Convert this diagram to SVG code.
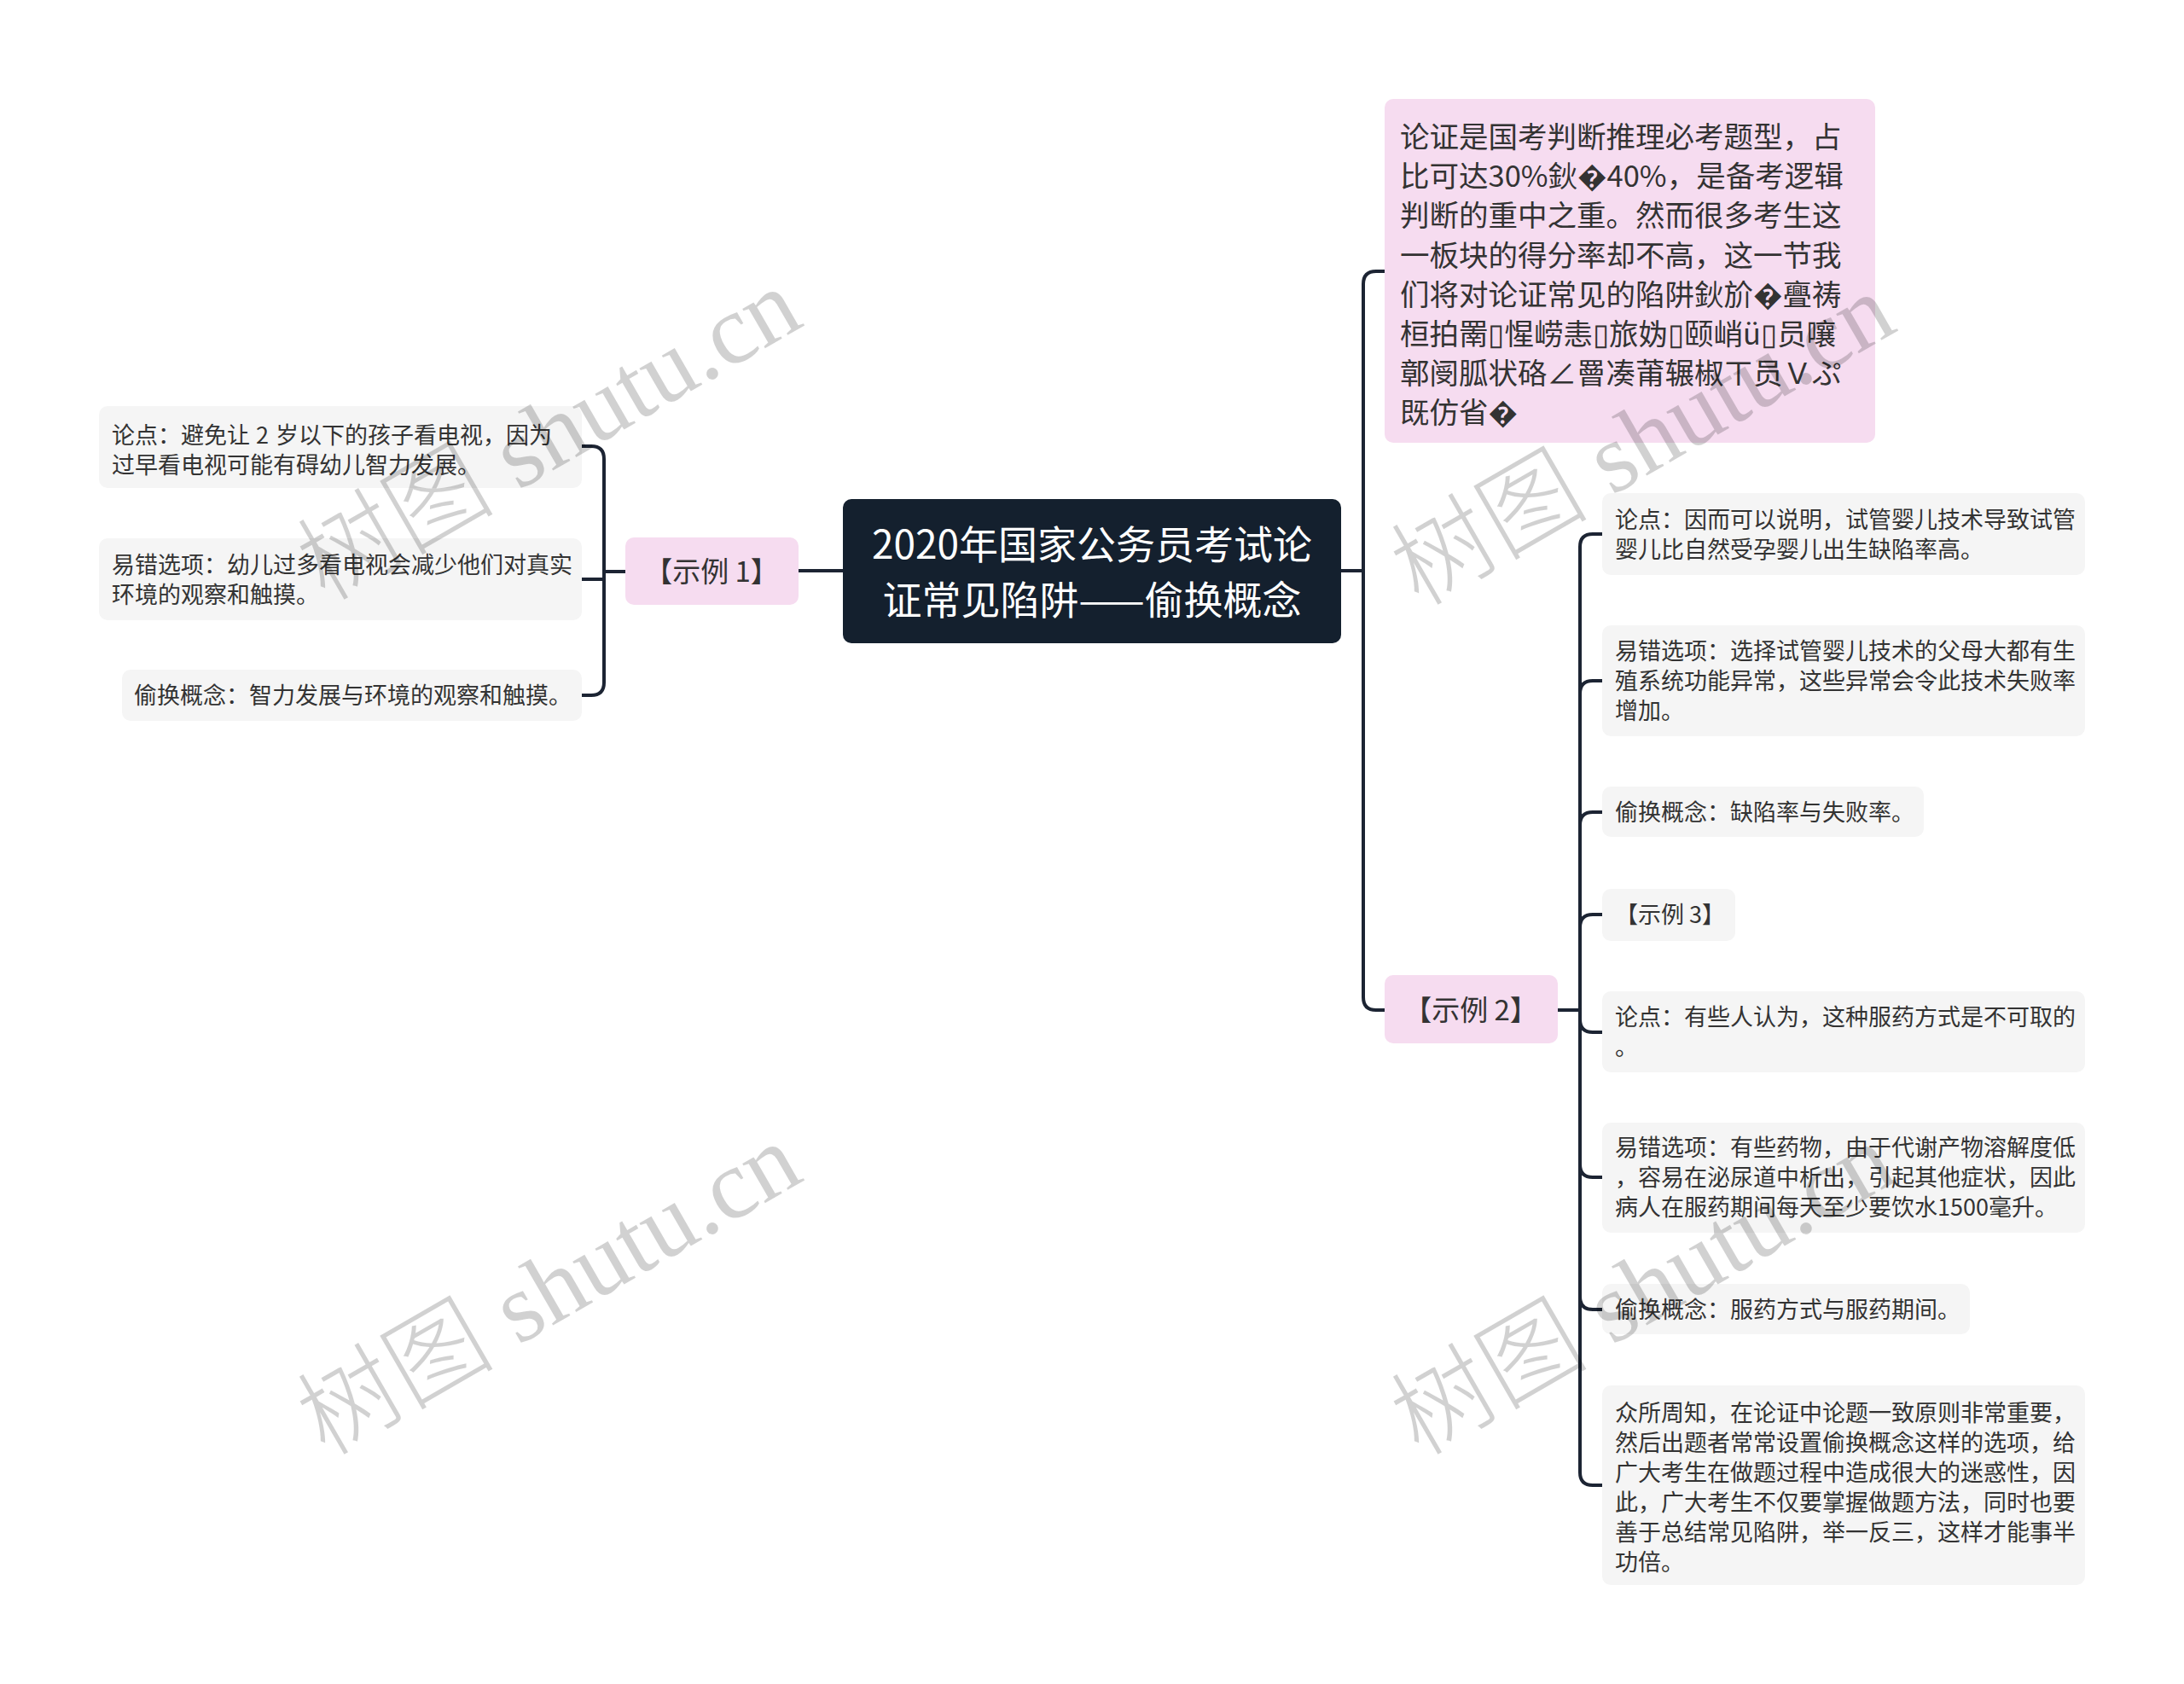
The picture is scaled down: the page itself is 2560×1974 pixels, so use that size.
<svg xmlns="http://www.w3.org/2000/svg" width="2560" height="1974" viewBox="0 0 2560 1974">
<style>
.bg{fill:#ffffff}
.leaf{fill:#f5f5f5}
.pink{fill:#f6dcf0}
.root{fill:#14202e}
.t{font-family:"Noto Sans CJK SC","Noto Sans",sans-serif;fill:#333333}
.s27{font-size:27px}
.s34{font-size:34.5px}
.s33{font-size:33px}
.rt{font-family:"Noto Sans CJK SC","Noto Sans",sans-serif;font-size:46px;fill:#ffffff}
.conn path{fill:none;stroke:#1c2433;stroke-width:4;stroke-linecap:round;stroke-linejoin:round}
.wm{font-family:"Liberation Serif","Noto Sans CJK SC",serif;font-size:116px;font-weight:300;fill:#000000;fill-opacity:0.18}
</style>
<rect class="bg" x="0" y="0" width="2560" height="1974"/>

<g id="connectors" class="conn">
  <path d="M988,669 H936"/>
  <path d="M733,670 H708 V538 Q708,523 693,523 H682"/>
  <path d="M733,670 H708 V679 H682"/>
  <path d="M733,670 H708 V800 Q708,815 693,815 H682"/>
  <path d="M1572,669 H1598 V333 Q1598,318 1613,318 H1623"/>
  <path d="M1572,669 H1598 V1169 Q1598,1184 1613,1184 H1623"/>
  <path d="M1826,1184 H1852 V641 Q1852,626 1867,626 H1878"/>
  <path d="M1826,1184 H1852 V813 Q1852,798 1867,798 H1878"/>
  <path d="M1826,1184 H1852 V967 Q1852,952 1867,952 H1878"/>
  <path d="M1826,1184 H1852 V1087 Q1852,1072 1867,1072 H1878"/>
  <path d="M1826,1184 H1852 V1195 Q1852,1210 1867,1210 H1878"/>
  <path d="M1826,1184 H1852 V1365 Q1852,1380 1867,1380 H1878"/>
  <path d="M1826,1184 H1852 V1520 Q1852,1535 1867,1535 H1878"/>
  <path d="M1826,1184 H1852 V1726 Q1852,1741 1867,1741 H1878"/>
</g>

<g id="root">
  <rect class="root" x="988" y="585" width="584" height="169" rx="10"/>
  <text class="rt" x="1280" y="655" text-anchor="middle">2020年国家公务员考试论</text>
  <text class="rt" x="1280" y="720" text-anchor="middle">证常见陷阱——偷换概念</text>
</g>

<g id="example1">
  <rect class="pink" x="733" y="630" width="203" height="79" rx="10"/>
  <text class="t s33" x="834" y="682" text-anchor="middle">【示例 1】</text>
</g>

<g id="left1">
  <rect class="leaf" x="116" y="476" width="566" height="96" rx="10"/>
  <text class="t s27" y="520"><tspan x="131">论点：避免让</tspan><tspan x="300">2</tspan><tspan x="323">岁以下的孩子看电视，因为</tspan></text>
  <text class="t s27" x="131" y="555">过早看电视可能有碍幼儿智力发展。</text>
</g>
<g id="left2">
  <rect class="leaf" x="116" y="631" width="566" height="96" rx="10"/>
  <text class="t s27" x="131" y="672">易错选项：幼儿过多看电视会减少他们对真实</text>
  <text class="t s27" x="131" y="707">环境的观察和触摸。</text>
</g>
<g id="left3">
  <rect class="leaf" x="143" y="785" width="539" height="60" rx="10"/>
  <text class="t s27" x="157" y="825">偷换概念：智力发展与环境的观察和触摸。</text>
</g>

<g id="intro">
  <rect class="pink" x="1623" y="116" width="575" height="403" rx="10"/>
  <text class="t s34" x="1641" y="173">论证是国考判断推理必考题型，占</text>
  <text class="t s34" x="1641" y="219">比可达30%鈥�40%，是备考逻辑</text>
  <text class="t s34" x="1641" y="265">判断的重中之重。然而很多考生这</text>
  <text class="t s34" x="1641" y="312">一板块的得分率却不高，这一节我</text>
  <text class="t s34" x="1641" y="358">们将对论证常见的陷阱鈥斺�亹祷</text>
  <text class="t s34" x="1641" y="404">桓拍罱▯惺崂恚▯旅妫▯颐峭ü▯员嚷</text>
  <text class="t s34" x="1641" y="450">鄣阌胍状硌∠罾凑莆辗椒ㄒ员Ｖぷ</text>
  <text class="t s34" x="1641" y="496">既仿省�</text>
</g>

<g id="example2">
  <rect class="pink" x="1623" y="1143" width="203" height="80" rx="10"/>
  <text class="t s33" x="1724" y="1196" text-anchor="middle">【示例 2】</text>
</g>

<g id="right1">
  <rect class="leaf" x="1878" y="578" width="566" height="96" rx="10"/>
  <text class="t s27" x="1893" y="619">论点：因而可以说明，试管婴儿技术导致试管</text>
  <text class="t s27" x="1893" y="654">婴儿比自然受孕婴儿出生缺陷率高。</text>
</g>
<g id="right2">
  <rect class="leaf" x="1878" y="733" width="566" height="130" rx="10"/>
  <text class="t s27" x="1893" y="773">易错选项：选择试管婴儿技术的父母大都有生</text>
  <text class="t s27" x="1893" y="808">殖系统功能异常，这些异常会令此技术失败率</text>
  <text class="t s27" x="1893" y="843">增加。</text>
</g>
<g id="right3">
  <rect class="leaf" x="1878" y="922" width="377" height="59" rx="10"/>
  <text class="t s27" x="1893" y="962">偷换概念：缺陷率与失败率。</text>
</g>
<g id="right4">
  <rect class="leaf" x="1878" y="1042" width="156" height="61" rx="10"/>
  <text class="t s27" x="1893" y="1082">【示例 3】</text>
</g>
<g id="right5">
  <rect class="leaf" x="1878" y="1162" width="566" height="95" rx="10"/>
  <text class="t s27" x="1893" y="1202">论点：有些人认为，这种服药方式是不可取的</text>
  <text class="t s27" x="1893" y="1237">。</text>
</g>
<g id="right6">
  <rect class="leaf" x="1878" y="1316" width="566" height="129" rx="10"/>
  <text class="t s27" x="1893" y="1355">易错选项：有些药物，由于代谢产物溶解度低</text>
  <text class="t s27" x="1893" y="1390">，容易在泌尿道中析出，引起其他症状，因此</text>
  <text class="t s27" x="1893" y="1425">病人在服药期间每天至少要饮水1500毫升。</text>
</g>
<g id="right7">
  <rect class="leaf" x="1878" y="1505" width="431" height="59" rx="10"/>
  <text class="t s27" x="1893" y="1545">偷换概念：服药方式与服药期间。</text>
</g>
<g id="right8">
  <rect class="leaf" x="1878" y="1624" width="566" height="234" rx="10"/>
  <text class="t s27" x="1893" y="1666">众所周知，在论证中论题一致原则非常重要，</text>
  <text class="t s27" x="1893" y="1701">然后出题者常常设置偷换概念这样的选项，给</text>
  <text class="t s27" x="1893" y="1736">广大考生在做题过程中造成很大的迷惑性，因</text>
  <text class="t s27" x="1893" y="1771">此，广大考生不仅要掌握做题方法，同时也要</text>
  <text class="t s27" x="1893" y="1806">善于总结常见陷阱，举一反三，这样才能事半</text>
  <text class="t s27" x="1893" y="1841">功倍。</text>
</g>

<g id="watermarks">
  <text class="wm" text-anchor="middle" transform="translate(645,512) rotate(-30)" y="36">树图 shutu.cn</text>
  <text class="wm" text-anchor="middle" transform="translate(645,1514) rotate(-30)" y="36">树图 shutu.cn</text>
  <text class="wm" text-anchor="middle" transform="translate(1927,518) rotate(-30)" y="36">树图 shutu.cn</text>
  <text class="wm" text-anchor="middle" transform="translate(1927,1514) rotate(-30)" y="36">树图 shutu.cn</text>
</g>
</svg>
